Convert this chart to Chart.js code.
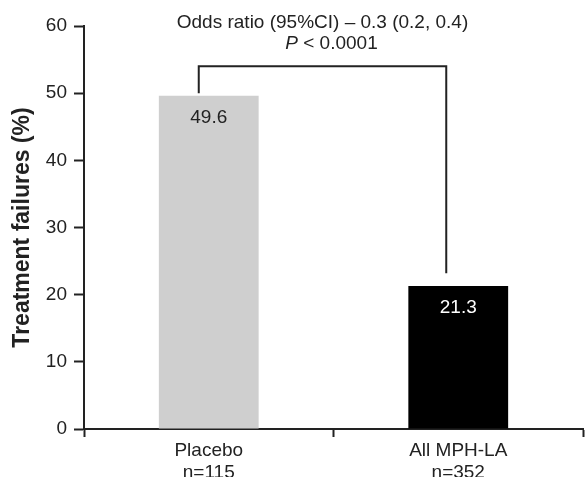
<!DOCTYPE html>
<html>
<head>
<meta charset="utf-8">
<script src="https://cdn.jsdelivr.net/npm/chart.js@4/dist/chart.umd.min.js"></script>
<style>
  html, body { margin: 0; padding: 0; background: #fff; }
  #wrap { width: 585px; height: 477px; }
</style>
</head>
<body>
<div id="wrap"><canvas id="failures-chart" width="585" height="477"></canvas></div>
<script>
// data
const categories = [['Placebo', 'n=115'], ['All MPH-LA', 'n=352']];
const failureRates = [49.6, 21.3];
const barColors = ['#cfcfcf', '#000000'];
const labelColors = ['#222222', '#ffffff'];
const yMin = 0, yMax = 60, yStep = 10;

// comparison bracket (values in % units)
const bracketTop = 54;
const bracketEnds = [50, 23.2];
const statLine1 = 'Odds ratio (95%CI) \u2013 0.3 (0.2, 0.4)';
const statP = 'P';
const statLine2 = ' < 0.0001';

const FONT = '"Liberation Sans", Arial, Helvetica, sans-serif';
const INK = '#222222';

const annotationPlugin = {
  id: 'annotations',
  afterDatasetsDraw(chart) {
    const ctx = chart.ctx;
    const yScale = chart.scales.y;
    const bars = chart.getDatasetMeta(0).data;

    // value labels inside bars
    ctx.save();
    ctx.font = '19px ' + FONT;
    ctx.textAlign = 'center';
    ctx.textBaseline = 'middle';
    bars.forEach((bar, i) => {
      ctx.fillStyle = labelColors[i];
      ctx.fillText(failureRates[i].toFixed(1), bar.x, bar.y + 22);
    });

    // bracket
    const xa = bars[0].x - 10;
    const xb = bars[1].x - 12;
    const yTop = yScale.getPixelForValue(bracketTop);
    ctx.strokeStyle = INK;
    ctx.lineWidth = 2;
    ctx.beginPath();
    ctx.moveTo(xa, yScale.getPixelForValue(bracketEnds[0]));
    ctx.lineTo(xa, yTop);
    ctx.lineTo(xb, yTop);
    ctx.lineTo(xb, yScale.getPixelForValue(bracketEnds[1]));
    ctx.stroke();

    // stats text
    const cx = (xa + xb) / 2;
    ctx.fillStyle = INK;
    ctx.font = '19px ' + FONT;
    ctx.fillText(statLine1, cx, yTop - 44);

    ctx.font = 'italic 19px ' + FONT;
    const wP = ctx.measureText(statP).width;
    ctx.font = '19px ' + FONT;
    const wRest = ctx.measureText(statLine2).width;
    const x0 = cx + 9 - (wP + wRest) / 2;
    ctx.textAlign = 'left';
    ctx.font = 'italic 19px ' + FONT;
    ctx.fillText(statP, x0, yTop - 23);
    ctx.font = '19px ' + FONT;
    ctx.fillText(statLine2, x0 + wP, yTop - 23);
    ctx.restore();
  }
};

const ctx = document.getElementById('failures-chart');
new Chart(ctx, {
  type: 'bar',
  data: {
    labels: categories,
    datasets: [{
      data: failureRates,
      backgroundColor: barColors,
      borderWidth: 0,
      categoryPercentage: 1,
      barPercentage: 0.4
    }]
  },
  options: {
    responsive: false,
    animation: false,
    events: [],
    layout: { padding: { top: 26, right: 2, left: 0, bottom: 0 } },
    plugins: { legend: { display: false }, tooltip: { enabled: false } },
    scales: {
      x: {
        offset: true,
        grid: {
          offset: true,
          drawOnChartArea: false,
          drawTicks: true,
          tickLength: 8,
          tickWidth: 2,
          tickColor: INK
        },
        border: { display: true, color: INK, width: 2 },
        ticks: {
          color: INK,
          padding: 3,
          font: { family: FONT, size: 19, lineHeight: 1.15 },
          maxRotation: 0
        },
        afterFit(scale) { scale.height = 48; }
      },
      y: {
        min: yMin,
        max: yMax,
        grid: {
          drawOnChartArea: false,
          tickLength: 10,
          tickWidth: 2,
          tickColor: INK
        },
        border: { display: true, color: INK, width: 2 },
        ticks: {
          stepSize: yStep,
          color: INK,
          padding: 7,
          font: { family: FONT, size: 19 }
        },
        title: {
          display: true,
          text: 'Treatment failures (%)',
          color: INK,
          padding: { top: 9, bottom: 0 },
          font: { family: FONT, size: 23, weight: 'bold' }
        },
        afterFit(scale) { scale.width = 84; }
      }
    }
  },
  plugins: [annotationPlugin]
});
</script>
</body>
</html>
